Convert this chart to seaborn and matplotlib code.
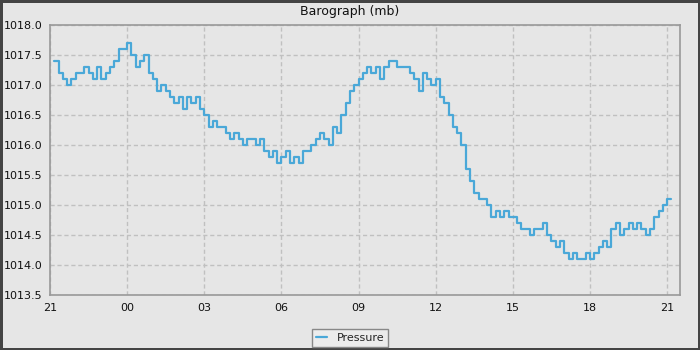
import numpy as np
import pandas as pd
import matplotlib
matplotlib.use('Agg')
import matplotlib.pyplot as plt
import matplotlib.dates as mdates
import seaborn as sns

# Barometric pressure (mb), one reading every 10 minutes from 21:10
pressure = [
    1017.4, 1017.2, 1017.1, 1017.0, 1017.1, 1017.2,
    1017.2, 1017.3, 1017.2, 1017.1, 1017.3, 1017.1,
    1017.2, 1017.3, 1017.4, 1017.6, 1017.6, 1017.7,
    1017.5, 1017.3, 1017.4, 1017.5, 1017.2, 1017.1,
    1016.9, 1017.0, 1016.9, 1016.8, 1016.7, 1016.8,
    1016.6, 1016.8, 1016.7, 1016.8, 1016.6, 1016.5,
    1016.3, 1016.4, 1016.3, 1016.3, 1016.2, 1016.1,
    1016.2, 1016.1, 1016.0, 1016.1, 1016.1, 1016.0,
    1016.1, 1015.9, 1015.8, 1015.9, 1015.7, 1015.8,
    1015.9, 1015.7, 1015.8, 1015.7, 1015.9, 1015.9,
    1016.0, 1016.1, 1016.2, 1016.1, 1016.0, 1016.3,
    1016.2, 1016.5, 1016.7, 1016.9, 1017.0, 1017.1,
    1017.2, 1017.3, 1017.2, 1017.3, 1017.1, 1017.3,
    1017.4, 1017.4, 1017.3, 1017.3, 1017.3, 1017.2,
    1017.1, 1016.9, 1017.2, 1017.1, 1017.0, 1017.1,
    1016.8, 1016.7, 1016.5, 1016.3, 1016.2, 1016.0,
    1015.6, 1015.4, 1015.2, 1015.1, 1015.1, 1015.0,
    1014.8, 1014.9, 1014.8, 1014.9, 1014.8, 1014.8,
    1014.7, 1014.6, 1014.6, 1014.5, 1014.6, 1014.6,
    1014.7, 1014.5, 1014.4, 1014.3, 1014.4, 1014.2,
    1014.1, 1014.2, 1014.1, 1014.1, 1014.2, 1014.1,
    1014.2, 1014.3, 1014.4, 1014.3, 1014.6, 1014.7,
    1014.5, 1014.6, 1014.7, 1014.6, 1014.7, 1014.6,
    1014.5, 1014.6, 1014.8, 1014.9, 1015.0, 1015.1,
    1015.1,
]
times = pd.date_range('2024-01-01 21:10', periods=len(pressure), freq='10min')
x_start = pd.Timestamp('2024-01-01 21:00')
x_end = pd.Timestamp('2024-01-02 21:30')
y_ticks = [1013.5, 1014.0, 1014.5, 1015.0, 1015.5, 1016.0, 1016.5, 1017.0, 1017.5, 1018.0]

df = pd.DataFrame({'time': times, 'pressure': pressure})

sns.set_style('whitegrid')
plt.rcParams['font.family'] = ['DejaVu Sans']

bg = '#e6e6e6'
fig = plt.figure(figsize=(7, 3.5), dpi=100, facecolor=bg, edgecolor='#444444', linewidth=3.6)
ax = fig.add_axes([0.0714, 0.157, 0.9, 0.7714])
ax.set_facecolor(bg)

sns.lineplot(data=df, x='time', y='pressure', ax=ax, color='#4aa8d8', linewidth=1.6,
             drawstyle='steps-post', label='Pressure', legend=False)

ax.set_xlim(x_start, x_end)
ax.set_ylim(1013.5, 1018.0)
ax.set_yticks(y_ticks)
ax.yaxis.set_major_formatter(matplotlib.ticker.FormatStrFormatter('%.1f'))
ax.yaxis.set_minor_locator(matplotlib.ticker.MultipleLocator(0.1))
ax.xaxis.set_major_locator(mdates.HourLocator(byhour=range(0, 24, 3)))
ax.xaxis.set_minor_locator(mdates.HourLocator())
ax.xaxis.set_major_formatter(mdates.DateFormatter('%H'))

ax.set_xlabel('')
ax.set_ylabel('')
# title is centred on the whole image, not on the plot area
fig.text(0.5, 1 - 12 / 350, 'Barograph (mb)', ha='center', va='center', fontsize=9, color='#111111')

ax.grid(True, which='major', color='#c0c0c0', linestyle=(0, (3, 2)), linewidth=1)
ax.grid(False, which='minor')
ax.tick_params(axis='both', which='both', direction='out', length=3, width=1,
               color='#222222', labelsize=8, labelcolor='#111111', pad=2.5)
for s in ax.spines.values():
    s.set_color('#999999')
    s.set_linewidth(1.2)

handles, labels = ax.get_legend_handles_labels()
fig.legend(handles, labels, loc='lower center', bbox_to_anchor=(0.5, 0.0), fontsize=8,
           frameon=True, fancybox=False, edgecolor='#888888', facecolor='#ececec',
           framealpha=1, handlelength=1.0, borderpad=0.35, handletextpad=0.9,
           borderaxespad=0.3)

fig.savefig('out.png', dpi=100, facecolor=fig.get_facecolor(), edgecolor=fig.get_edgecolor())
plt.close()
